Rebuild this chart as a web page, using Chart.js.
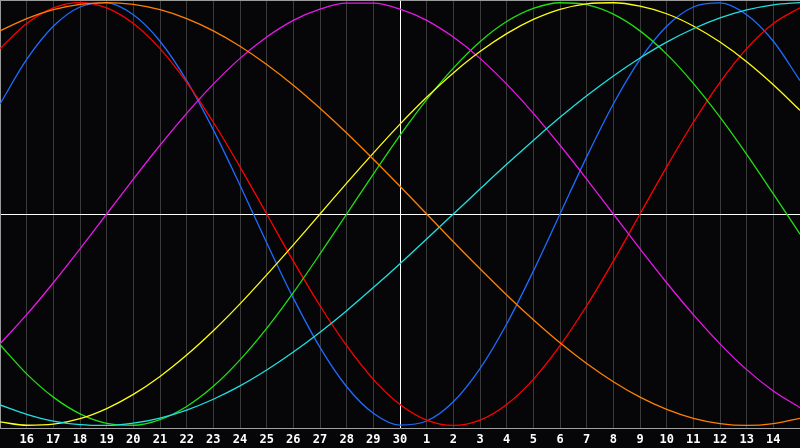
<!DOCTYPE html>
<html>
<head>
<meta charset="utf-8">
<script src="https://cdn.jsdelivr.net/npm/chart.js@4/dist/chart.umd.min.js"></script>
<style>
  html, body { margin: 0; padding: 0; background: #060609; }
  #wrap { width: 800px; height: 448px; }
</style>
</head>
<body>
<div id="wrap"><canvas id="c" width="800" height="448"></canvas></div>
<script>
// Day labels along the x axis (first and last position are the chart edges, unlabeled)
const days = [15,16,17,18,19,20,21,22,23,24,25,26,27,28,29,30,1,2,3,4,5,6,7,8,9,10,11,12,13,14,15];
const centerIndex = 15; // day 30 (white marker line)

// Curve values (percent, -100..100) read at each day gridline
const blue23 = [52.0,73.1,88.8,97.9,99.8,94.2,81.7,63.1,39.8,13.6,-13.6,-39.8,-63.1,-81.7,-94.2,-99.8,-97.9,-88.8,-73.1,-52.0,-27.0,0,27.0,52.0,73.1,88.8,97.9,99.8,94.2,81.7,63.1];
const red28 = [78.2,90.1,97.5,100,97.5,90.1,78.2,62.3,43.4,22.3,0,-22.3,-43.4,-62.3,-78.2,-90.1,-97.5,-100,-97.5,-90.1,-78.2,-62.3,-43.4,-22.3,0,22.3,43.4,62.3,78.2,90.1,97.5];
const green33 = [-61.8,-75.6,-86.6,-94.5,-99.0,-99.9,-97.2,-91.0,-81.5,-69.0,-54.1,-37.2,-18.9,0,18.9,37.2,54.1,69.0,81.5,91.0,97.2,99.9,99.0,94.5,86.6,75.6,61.8,45.8,28.2,9.5,-9.5];
const magenta38 = [-61.4,-47.6,-32.5,-16.5,0,16.5,32.5,47.6,61.4,73.6,83.7,91.6,96.9,99.7,99.7,96.9,91.6,83.7,73.6,61.4,47.6,32.5,16.5,0,-16.5,-32.5,-47.6,-61.4,-73.6,-83.7,-91.6];
const yellow43 = [-98.3,-99.9,-99.4,-96.8,-92.0,-85.3,-76.8,-66.7,-55.2,-42.5,-28.8,-14.6,0,14.6,28.8,42.5,55.2,66.7,76.8,85.3,92.0,96.8,99.4,99.9,98.3,94.7,88.9,81.3,72.0,61.1,49.0];
const orange48 = [86.6,92.4,96.6,99.1,100,99.1,96.6,92.4,86.6,79.3,70.7,60.9,50.0,38.3,25.9,13.1,0,-13.1,-25.9,-38.3,-50.0,-60.9,-70.7,-79.3,-86.6,-92.4,-96.6,-99.1,-100,-99.1,-96.6];
const cyan53 = [-90.3,-94.7,-97.9,-99.6,-100.0,-98.9,-96.5,-92.7,-87.6,-81.3,-73.8,-65.3,-55.9,-45.7,-34.8,-23.5,-11.8,0,11.8,23.5,34.8,45.7,55.9,65.3,73.8,81.3,87.6,92.7,96.5,98.9,100.0];

const yLimit = 101.2;

function ds(data, color) {
  return { data, borderColor: color, borderWidth: 1.3, pointRadius: 0, pointHoverRadius: 0, pointHitRadius: 0,
           fill: false, cubicInterpolationMode: 'monotone' };
}

new Chart(document.getElementById('c'), {
  type: 'line',
  data: {
    labels: days.map(String),
    datasets: [
      ds(orange48, '#ff8000'),
      ds(cyan53, '#20e0e0'),
      ds(yellow43, '#ffff10'),
      ds(magenta38, '#e818e8'),
      ds(green33, '#20e010'),
      ds(red28, '#ff0000'),
      ds(blue23, '#1e6cff')
    ]
  },
  options: {
    responsive: false,
    animation: false,
    events: [],
    layout: { padding: 0, autoPadding: false },
    plugins: { legend: { display: false }, tooltip: { enabled: false } },
    scales: {
      x: {
        type: 'category',
        offset: false,
        afterFit: (scale) => { scale.height = 20; scale.paddingLeft = 0; scale.paddingRight = 0; },
        border: { display: true, color: '#a0a0a0', width: 1 },
        grid: {
          drawTicks: false,
          color: (ctx) => ctx.index === centerIndex ? '#ffffff' : (ctx.index === 0 ? '#9a9a9a' : '#3a3a3a'),
          lineWidth: 1
        },
        ticks: {
          autoSkip: false,
          maxRotation: 0,
          minRotation: 0,
          padding: 5,
          color: '#ffffff',
          font: { family: '"DejaVu Sans Mono"', size: 12, weight: 'bold' },
          callback: (v, i) => (i === 0 || i === days.length - 1) ? '' : String(days[i])
        }
      },
      y: {
        min: -yLimit,
        max: yLimit,
        afterFit: (scale) => { scale.width = 0; scale.paddingTop = 0; scale.paddingBottom = 0; },
        border: { display: true, color: '#9a9a9a', width: 1 },
        afterBuildTicks: (scale) => { scale.ticks = [{ value: -yLimit }, { value: 0 }, { value: yLimit }]; },
        grid: {
          drawTicks: false,
          color: (ctx) => ctx.tick.value === 0 ? '#ffffff' : (ctx.tick.value > 0 ? '#9a9a9a' : 'rgba(0,0,0,0)'),
          lineWidth: 1
        },
        ticks: { display: false }
      }
    }
  }
});
</script>
</body>
</html>
